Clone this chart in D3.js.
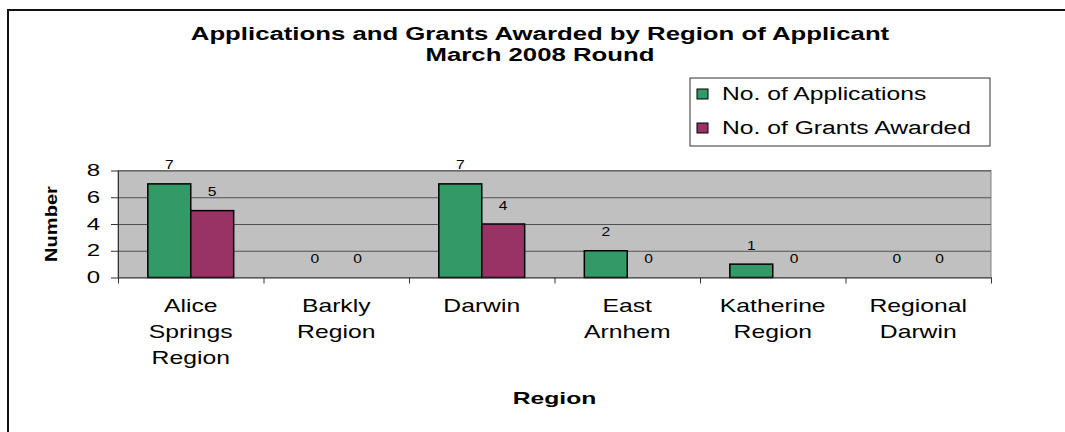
<!DOCTYPE html>
<html>
<head>
<meta charset="utf-8">
<script src="https://cdn.jsdelivr.net/npm/d3@7"></script>
<style>
  body { margin: 0; background: #fff; }
  text { font-family: Arial, "Liberation Sans", sans-serif; fill: #000; }
</style>
</head>
<body>
<script>
// chart data
var regions = ["Alice Springs Region", "Barkly Region", "Darwin", "East Arnhem", "Katherine Region", "Regional Darwin"];
var applications = [7, 0, 7, 2, 1, 0];
var grants = [5, 0, 4, 0, 0, 0];
var seriesNames = ["No. of Applications", "No. of Grants Awarded"];
var seriesColors = ["#339966", "#993366"];
var yTicks = [0, 2, 4, 6, 8];
var titleLines = ["Applications and Grants Awarded by Region of Applicant", "March 2008 Round"];

var W = 1065, H = 432;
var plot = {left: 118, top: 170.5, right: 991, bottom: 277.5};

var svg = d3.select("body").append("svg")
    .attr("width", W)
    .attr("height", H);

// the source picture is stretched sideways, so text is widened to match
function stretch(sel, k){
  sel.each(function(){
    var w = this.getComputedTextLength();
    d3.select(this).attr("textLength", w * k).attr("lengthAdjust", "spacingAndGlyphs");
  });
}

// outer chart frame (runs off the right and bottom of the picture)
svg.append("rect")
    .attr("x", 8).attr("y", 10)
    .attr("width", 1100).attr("height", 500)
    .attr("fill", "none")
    .attr("stroke", "#111")
    .attr("stroke-width", 2);

//Scales
var x0 = d3.scaleBand()
    .domain(regions)
    .range([plot.left, plot.right]);
var groupW = x0.step() * 0.59;
var x1 = d3.scaleBand()
    .domain(seriesNames)
    .range([0, groupW]);
var y = d3.scaleLinear()
    .domain([0, 8])
    .range([plot.bottom, plot.top]);

// plot background
svg.append("rect")
    .attr("x", plot.left).attr("y", plot.top)
    .attr("width", plot.right - plot.left)
    .attr("height", plot.bottom - plot.top)
    .attr("fill", "#c0c0c0")
    .attr("stroke", "#808080")
    .attr("stroke-width", 1);

// gridlines
var grid = svg.append("g")
    .attr("transform", "translate(" + plot.left + ",0)")
    .call(d3.axisLeft(y).tickValues(yTicks.slice(1)).tickSize(-(plot.right - plot.left)).tickFormat(""));
grid.select(".domain").remove();
grid.selectAll("line").attr("stroke", "#505050");

// bars
var series = [applications, grants];
series.forEach(function(vals, s){
  svg.append("g").selectAll("rect")
      .data(vals)
    .enter().append("rect")
      .attr("x", function(d, i){ return x0(regions[i]) + (x0.step() - groupW) / 2 + x1(seriesNames[s]); })
      .attr("width", x1.bandwidth())
      .attr("y", function(d){ return y(d); })
      .attr("height", function(d){ return y(0) - y(d); })
      .attr("fill", seriesColors[s])
      .attr("stroke", "#000")
      .attr("stroke-width", function(d){ return d > 0 ? 1.5 : 0; });

  var lbl = svg.append("g").selectAll("text")
      .data(vals)
    .enter().append("text")
      .attr("x", function(d, i){ return x0(regions[i]) + (x0.step() - groupW) / 2 + x1(seriesNames[s]) + x1.bandwidth() / 2; })
      .attr("y", function(d){ return y(d) - 14.5; })
      .attr("text-anchor", "middle")
      .style("font-size", "13px")
      .text(function(d){ return d; });
  stretch(lbl, 1.2);
});

// y axis
var yAxis = svg.append("g")
    .attr("transform", "translate(" + plot.left + ",0)")
    .call(d3.axisLeft(y).tickValues(yTicks).tickSize(7).tickPadding(11).tickSizeOuter(0));
yAxis.select(".domain").attr("stroke", "#333");
yAxis.selectAll("line").attr("stroke", "#333");
yAxis.selectAll("text")
    .style("font-size", "16px")
    .style("font-family", "Arial, 'Liberation Sans', sans-serif")
    .attr("fill", "#000");
stretch(yAxis.selectAll("text"), 1.5);

// x axis, ticks sit between categories
var xEdge = d3.scaleLinear().domain([0, regions.length]).range([plot.left, plot.right]);
var xAxis = svg.append("g")
    .attr("transform", "translate(0," + plot.bottom + ")")
    .call(d3.axisBottom(xEdge).tickValues(d3.range(regions.length + 1)).tickSize(6).tickSizeOuter(0).tickFormat(""));
xAxis.select(".domain").attr("stroke", "#333");
xAxis.selectAll("line").attr("stroke", "#333");

// category labels, one word per line
regions.forEach(function(r){
  r.split(" ").forEach(function(word, j){
    var t = svg.append("text")
        .attr("x", x0(r) + x0.step() / 2)
        .attr("y", 312 + j * 26)
        .attr("text-anchor", "middle")
        .style("font-size", "19px")
        .text(word);
    stretch(t, 1.3);
  });
});

// title
titleLines.forEach(function(line, i){
  var t = svg.append("text")
      .attr("x", 540)
      .attr("y", 40 + i * 21)
      .attr("text-anchor", "middle")
      .style("font-size", "18px")
      .style("font-weight", "bold")
      .text(line);
  stretch(t, 1.43);
});

// axis titles
var xt = svg.append("text")
    .attr("x", (plot.left + plot.right) / 2)
    .attr("y", 404)
    .attr("text-anchor", "middle")
    .style("font-size", "17px")
    .style("font-weight", "bold")
    .text("Region");
stretch(xt, 1.45);

var yt = svg.append("text")
    .attr("transform", "translate(57," + ((plot.top + plot.bottom) / 2) + ") rotate(-90)")
    .attr("text-anchor", "middle")
    .style("font-size", "17px")
    .style("font-weight", "bold")
    .text("Number");
stretch(yt, 1.18);

// legend
var legend = svg.append("g");
legend.append("rect")
    .attr("x", 690).attr("y", 78)
    .attr("width", 300).attr("height", 68)
    .attr("fill", "#fff")
    .attr("stroke", "#333")
    .attr("stroke-width", 1);
seriesNames.forEach(function(name, i){
  var cy = 94 + i * 34;
  legend.append("rect")
      .attr("x", 697).attr("y", cy - 5)
      .attr("width", 11).attr("height", 10)
      .attr("fill", seriesColors[i])
      .attr("stroke", "#000")
      .attr("stroke-width", 1);
  var t = legend.append("text")
      .attr("x", 722)
      .attr("y", cy)
      .attr("dy", "0.35em")
      .style("font-size", "18px")
      .text(name);
  stretch(t, 1.37);
});
</script>
</body>
</html>
